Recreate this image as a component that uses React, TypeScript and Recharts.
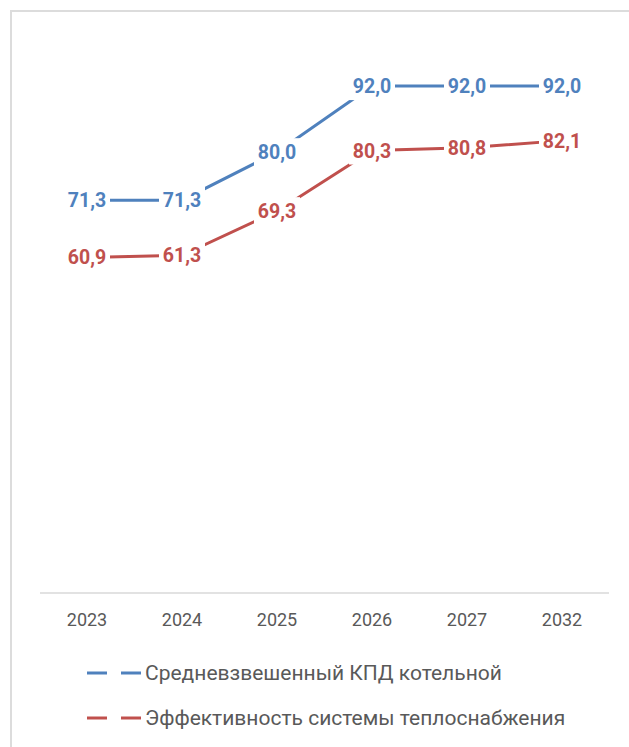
import React from "react";
import { LineChart, Line, XAxis, YAxis, LabelList } from "recharts";

const years = ["2023", "2024", "2025", "2026", "2027", "2032"];
const boilerEfficiency = [71.3, 71.3, 80.0, 92.0, 92.0, 92.0];
const systemEfficiency = [60.9, 61.3, 69.3, 80.3, 80.8, 82.1];
const seriesNames = ["Средневзвешенный КПД котельной", "Эффективность системы теплоснабжения"];
const colors = ["#4F81BD", "#C0504D"];

const data = years.map((y, i) => ({ year: y, a: boilerEfficiency[i], b: systemEfficiency[i] }));

const fmt = (v: number) => v.toFixed(1).replace(".", ",");

const makeLabel = (color: string) => (props: any) => {
  const { x, y, value } = props;
  return (
    <g>
      <rect x={x - 23} y={y - 14} width={46} height={28} fill="#ffffff" />
      <text
        x={x}
        y={y}
        dy="0.36em"
        textAnchor="middle"
        fill={color}
        fontWeight="bold"
        fontSize={19.5}
        fontFamily="Roboto"
      >
        {fmt(value)}
      </text>
    </g>
  );
};

export default function App() {
  return (
    <div style={{ position: "absolute", left: 0, top: 0, width: 629, height: 747, overflow: "hidden", background: "#fff" }}>
      <div
        style={{
          position: "absolute",
          left: 10,
          top: 10,
          width: 700,
          height: 800,
          border: "2px solid #dcdcdc",
          boxSizing: "border-box",
        }}
      />
      <div style={{ position: "absolute", left: 0, top: 0 }}>
        <LineChart width={629} height={747} data={data} margin={{ top: 42, right: 20, left: 40, bottom: 124 }}>
          <YAxis hide domain={[0, 100]} />
          <XAxis
            dataKey="year"
            padding={{ left: 47, right: 47 }}
            axisLine={{ stroke: "#d9d9d9", strokeWidth: 1.5 }}
            tickLine={false}
            tickMargin={14}
            tick={{ fill: "#595959", fontSize: 18, fontFamily: "Roboto" }}
          />
          <Line
            dataKey="a"
            stroke={colors[0]}
            strokeWidth={3}
            dot={false}
            isAnimationActive={false}
          >
            <LabelList dataKey="a" content={makeLabel(colors[0])} />
          </Line>
          <Line
            dataKey="b"
            stroke={colors[1]}
            strokeWidth={3}
            dot={false}
            isAnimationActive={false}
          >
            <LabelList dataKey="b" content={makeLabel(colors[1])} />
          </Line>
        </LineChart>
      </div>
      {seriesNames.map((name, i) => (
        <div
          key={name}
          style={{
            position: "absolute",
            left: 87,
            top: i === 0 ? 673 - 15 : 718 - 15,
            height: 30,
            display: "flex",
            alignItems: "center",
          }}
        >
          <svg width={56} height={10} style={{ display: "block" }}>
            <line x1={0} y1={5} x2={20} y2={5} stroke={colors[i]} strokeWidth={3} />
            <line x1={34} y1={5} x2={54} y2={5} stroke={colors[i]} strokeWidth={3} />
          </svg>
          <span style={{ marginLeft: 2, fontFamily: "Roboto", fontSize: 21, color: "#595959", whiteSpace: "nowrap" }}>
            {name}
          </span>
        </div>
      ))}
    </div>
  );
}
